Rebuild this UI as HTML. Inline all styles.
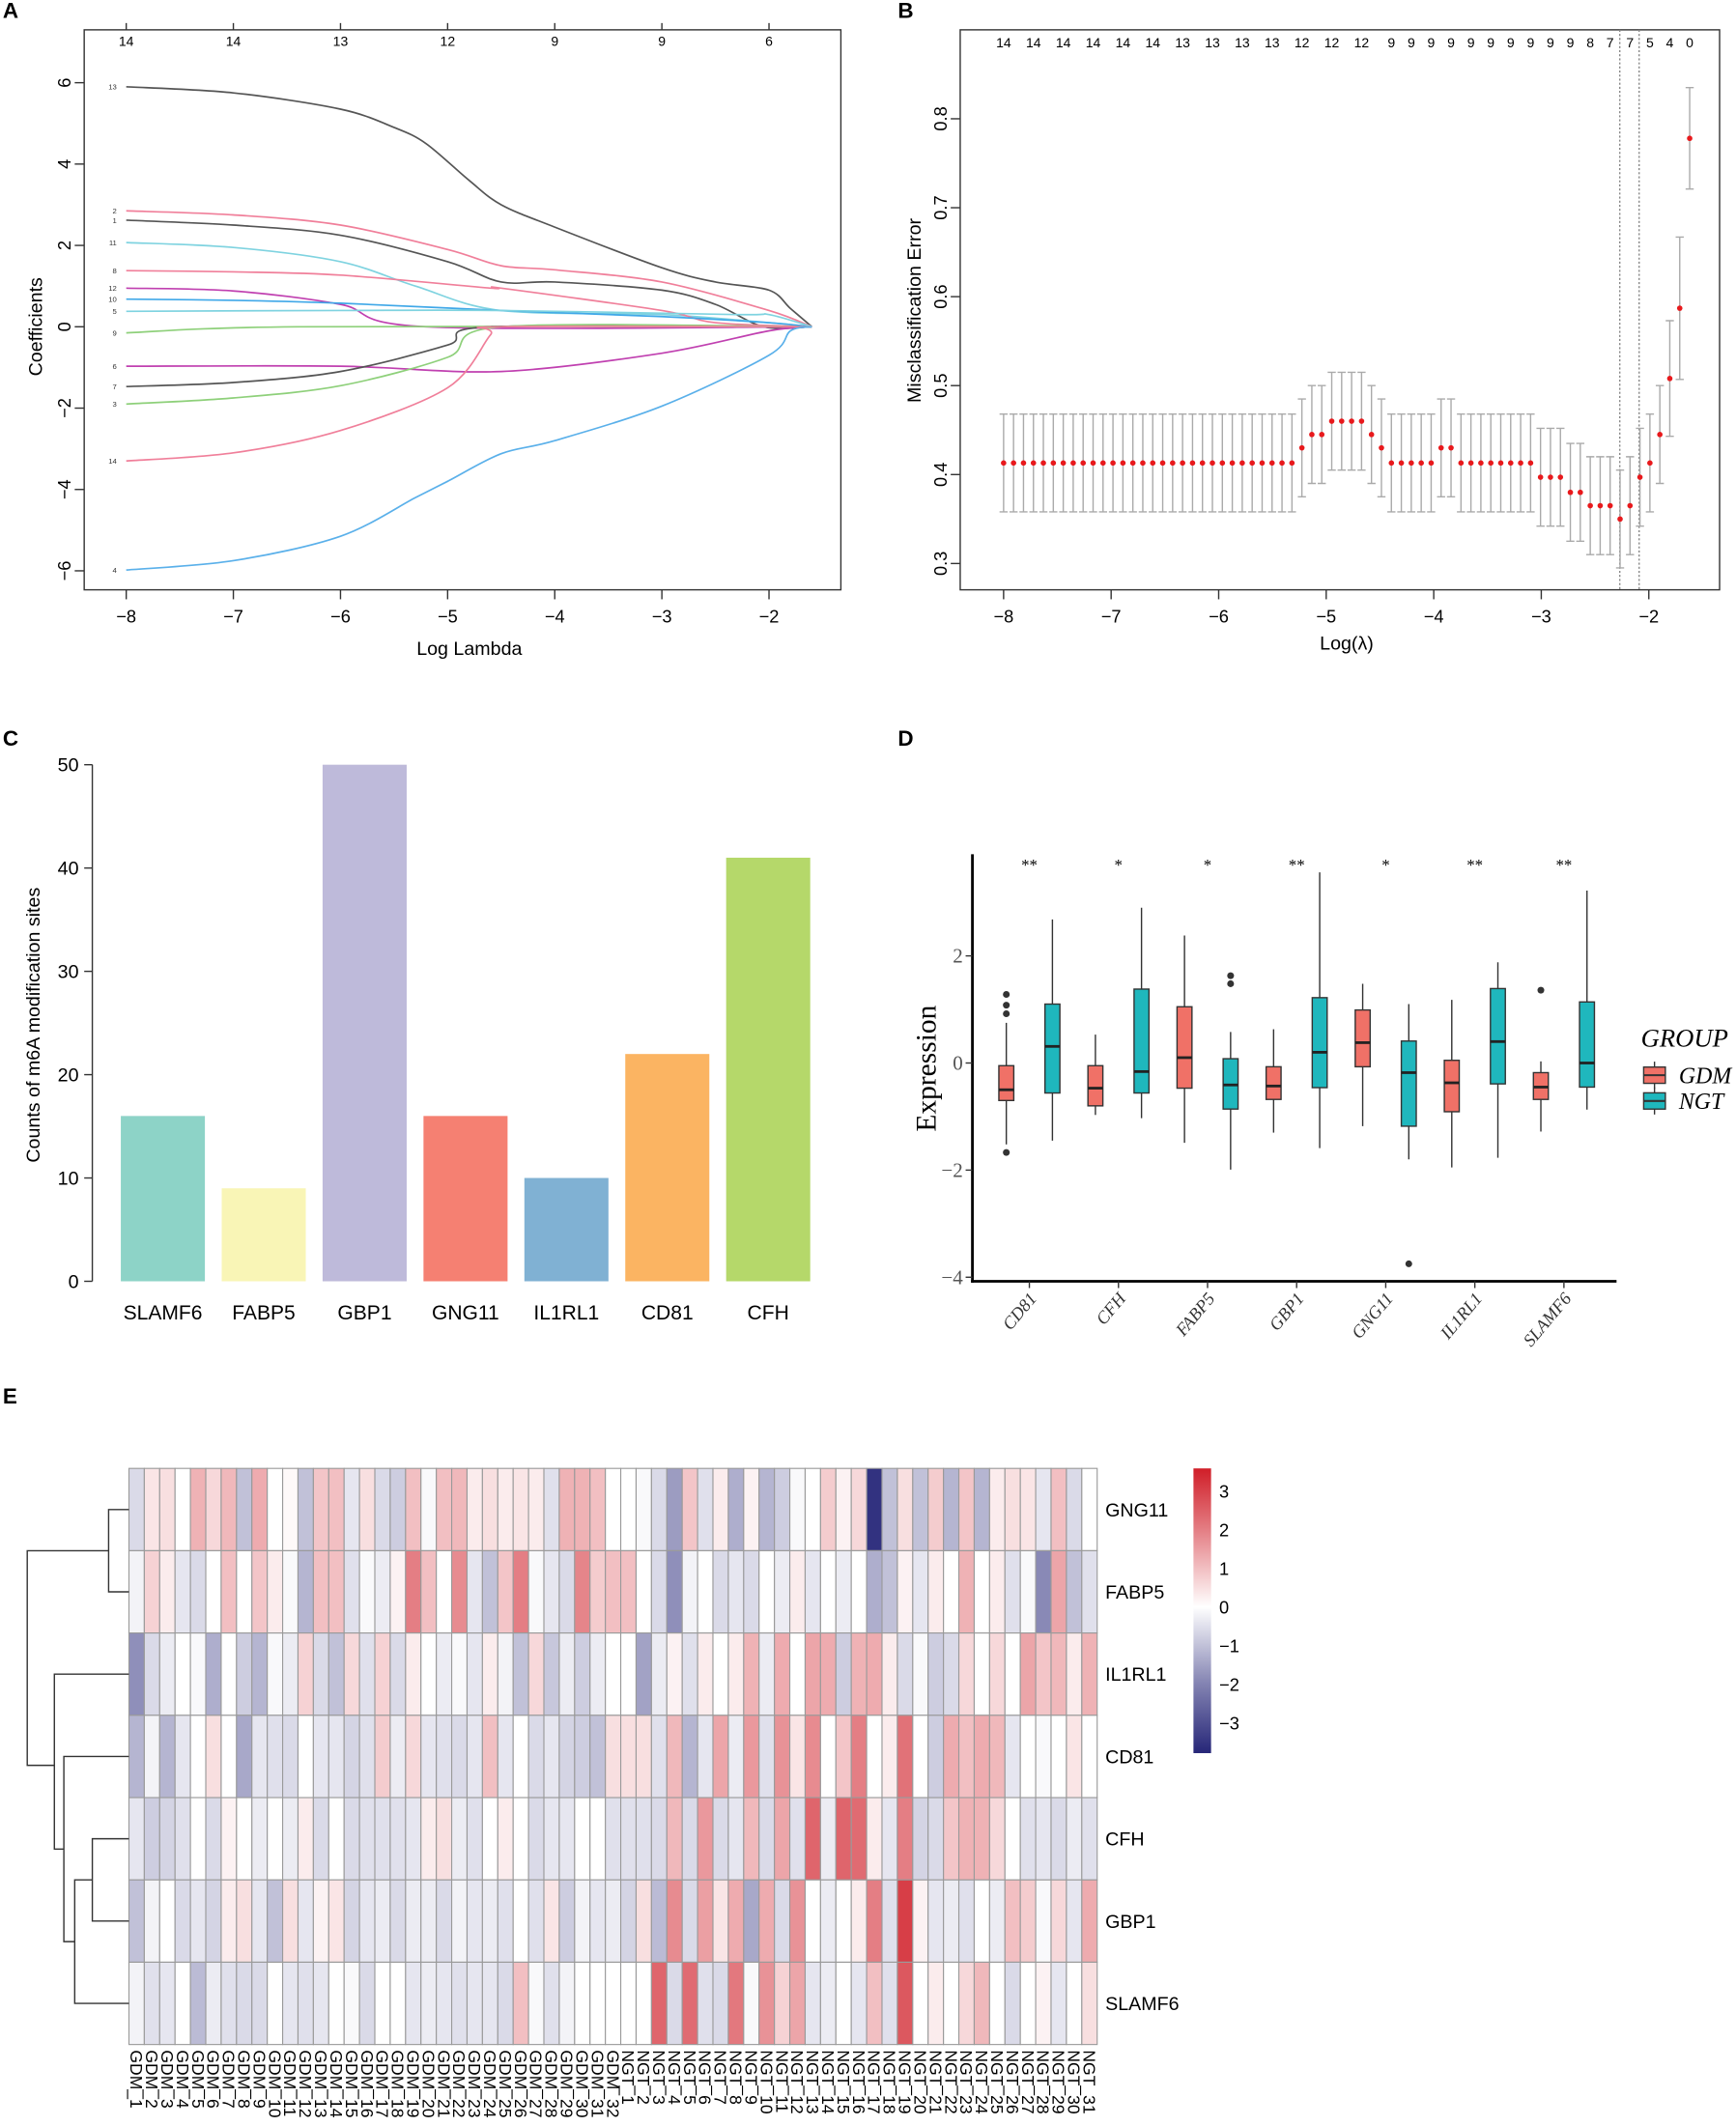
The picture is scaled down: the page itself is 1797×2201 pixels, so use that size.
<!DOCTYPE html>
<html><head><meta charset="utf-8"><style>
html,body{margin:0;padding:0;background:#fff}
svg{display:block}
text{font-family:"Liberation Sans",sans-serif}
text.ser{font-family:"Liberation Serif",serif}
</style></head><body>
<svg id="fig" xmlns="http://www.w3.org/2000/svg" width="1797" height="2201" viewBox="0 0 1280 1568">
<rect width="1280" height="1568" fill="#fff"/>
<text x="2" y="13" font-size="16" font-weight="bold">A</text>
<text x="662" y="13" font-size="16" font-weight="bold">B</text>
<text x="2" y="550" font-size="16" font-weight="bold">C</text>
<text x="662" y="550" font-size="16" font-weight="bold">D</text>
<text x="2" y="1035" font-size="16" font-weight="bold">E</text>
<g id="pa"></g>
<g id="pb"></g>
<g id="pc"></g>
<g id="pd"></g>
<g id="pe"></g>
</svg>
<script>
// ---------- Panel A data ----------
const aTicksX=[-8,-7,-6,-5,-4,-3,-2];
const aTicksY=[-6,-4,-2,0,2,4,6];
const aTopLabels=["14","14","13","12","9","9","6"];
const aLabels=["13","2","1","11","8","12","10","5","9","6","7","3","14","4"];
const aColors=["#555","#f07f9a","#555","#7fd3e0","#f07f9a","#c040b0","#40a8e8","#7fd3e0","#8ed07a","#c040b0","#555","#8ed07a","#f07f9a","#5ab0ea"];
const aKnotX=[
[-8,-7,-6,-5.5,-5.2,-4.8,-4.5,-4,-3,-2.5,-2,-1.8,-1.6],
[-8,-7,-6,-5,-4.5,-4,-3,-2,-1.6],
[-8,-7,-6,-5,-4.5,-4,-3,-2.5,-2.05,-1.6],
[-8,-7,-6,-5.3,-4.5,-3,-2,-1.6],
[-8,-7,-6,-4.6,-4.5,-3,-2.5,-1.6],
[-8,-7,-6,-5.2,-1.6],
[-8,-7,-6,-4.5,-3,-2,-1.6],
[-8,-6,-4.5,-2.3,-2,-1.6],
[-8,-6.4,-1.6],
[-8,-6,-4.5,-3,-2,-1.6],
[-8,-7,-6,-5,-4.6,-1.6],
[-8,-7,-6,-5,-4.5,-1.6],
[-8,-7,-6,-5,-4.6,-4.5,-1.6],
[-8,-7,-6,-5.3,-5,-4.5,-4,-3,-2,-1.8,-1.6]];
const aKnotV=[
[5.9,5.75,5.35,4.9,4.5,3.6,3.0,2.45,1.45,1.1,0.9,0.45,0],
[2.85,2.75,2.5,1.9,1.5,1.4,1.1,0.4,0],
[2.62,2.5,2.25,1.6,1.1,1.1,0.9,0.55,0,0],
[2.07,1.95,1.6,1.0,0.4,0.3,0.1,0],
[1.38,1.35,1.27,0.95,0.95,0.4,0.1,0],
[0.95,0.88,0.55,0,0],
[0.68,0.65,0.58,0.4,0.25,0.1,0],
[0.38,0.4,0.4,0.3,0.3,0],
[-0.15,0,0],
[-0.97,-0.97,-1.1,-0.65,-0.1,0],
[-1.47,-1.37,-1.1,-0.45,0,0],
[-1.9,-1.75,-1.45,-0.75,0,0],
[-3.3,-3.1,-2.55,-1.5,-0.2,0,0],
[-5.98,-5.75,-5.15,-4.2,-3.8,-3.12,-2.8,-1.95,-0.7,-0.1,0]];
// ---------- Panel B data ----------
const bTicksX=[-8,-7,-6,-5,-4,-3,-2];
const bTicksY=[0.3,0.4,0.5,0.6,0.7,0.8];
const bTopLabels=["14","14","14","14","14","14","13","13","13","13","12","12","12","9","9","9","9","9","9","9","9","9","9","8","7","7","5","4","0"];
const bTopIdx=[0,3,6,9,12,15,18,21,24,27,30,33,36,39,41,43,45,47,49,51,53,55,57,59,61,63,65,67,69];
const bLogLambda=[];
const bErr=[0.413,0.413,0.413,0.413,0.413,0.413,0.413,0.413,0.413,0.413,0.413,0.413,0.413,0.413,0.413,0.413,0.413,0.413,0.413,0.413,0.413,0.413,0.413,0.413,0.413,0.413,0.413,0.413,0.413,0.413,
0.43,0.445,0.445,0.46,0.46,0.46,0.46,0.445,0.43,0.413,0.413,0.413,0.413,0.413,0.43,0.43,0.413,0.413,0.413,0.413,0.413,0.413,0.413,0.413,0.397,0.397,0.397,0.38,0.38,0.365,0.365,0.365,0.35,0.365,0.397,0.413,0.445,0.508,0.587,0.778];
const bSE=[];
for(let i=0;i<70;i++){bLogLambda.push(-8+i*(6.38/69));bSE.push(0.055);}
bSE[67]=0.065;bSE[68]=0.08;bSE[69]=0.057;
const bVlines=[-2.27,-2.09];
// ---------- Panel C data ----------
const cGenes=["SLAMF6","FABP5","GBP1","GNG11","IL1RL1","CD81","CFH"];
const cCounts=[16,9,50,16,10,22,41];
const cColors=["#8dd3c7","#f9f5b6","#bebada","#f58072","#80b1d3","#fbb462","#b5d86a"];
const cTicks=[0,10,20,30,40,50];
// ---------- Panel D data ----------
const dGenes=["CD81","CFH","FABP5","GBP1","GNG11","IL1RL1","SLAMF6"];
const dSig=["**","*","*","**","*","**","**"];
const dTicks=[-4,-2,0,2];
const dGDM=[[-1.52,-0.7,-0.5,-0.05,0.75],[-0.97,-0.8,-0.47,-0.05,0.53],[-1.49,-0.47,0.1,1.05,2.38],[-1.3,-0.68,-0.43,-0.07,0.63],[-1.18,-0.07,0.38,0.99,1.48],[-1.95,-0.91,-0.37,0.05,1.18],[-1.28,-0.68,-0.45,-0.18,0.03]];
const dNGT=[[-1.45,-0.56,0.31,1.1,2.68],[-1.03,-0.56,-0.16,1.38,2.9],[-1.99,-0.86,-0.41,0.08,0.58],[-1.59,-0.46,0.2,1.22,3.56],[-1.8,-1.18,-0.18,0.41,1.1],[-1.77,-0.39,0.4,1.39,1.88],[-0.87,-0.45,0.0,1.14,3.22]];
const dOutGDM=[[1.28,1.08,0.92,-1.67],[],[],[],[],[],[1.36]];
const dOutNGT=[[],[],[1.63,1.48],[],[-3.75],[],[]];
// ---------- Panel E data ----------
const eRows=["GNG11","FABP5","IL1RL1","CD81","CFH","GBP1","SLAMF6"];
const eCols=[];for(let i=1;i<=32;i++)eCols.push("GDM_"+i);for(let i=1;i<=31;i++)eCols.push("NGT_"+i);
const eGNG11=[-0.6,0.4,0.5,0,1.2,0.6,1.1,-1,1.3,0,0.1,-1,0.9,1,-0.4,0.5,-0.6,-0.8,1,-0.1,1,1.1,0.3,0.5,0.3,0.4,0.3,-0.5,1.2,1.2,1,0,0,-0.1,-0.6,-1.6,0.9,-0.5,0.3,-1.3,0.2,-1.2,-0.8,-0.1,0,0.8,0.2,0.6,-3.3,-1,0.5,-1,0.8,-1.2,0.9,-1.2,0.3,0.5,0.4,-0.4,1,-0.6,0];
const eFABP5=[-0.2,0.7,0.3,-0.4,-0.6,0,1,0,0.9,0.3,-0.1,-1.2,1,1,-0.5,-0.1,-0.3,0.2,2,1,0,1.8,-0.4,-1,0.9,2,-0.1,-0.4,-0.6,1.9,0.8,1,1,0,-0.6,-1.8,-0.2,0,-0.6,-0.4,-0.6,0,-0.3,0.3,-0.4,0,-0.3,0,-1.3,-1,0.2,-0.4,0.3,0,1.2,0,0.3,-0.5,-0.1,-1.9,1.4,-1,-0.5];
const eIL1RL1=[-1.8,-0.6,-0.3,0,-0.1,-1.3,0,-0.8,-1.2,-0.1,-0.3,0.7,-0.6,-1,0.6,-0.5,0.7,-0.6,0.3,0,-0.3,-0.1,-0.4,0.3,-0.2,-1,0.6,-0.9,-0.3,-0.8,-0.3,0,0,-1.5,-0.3,0.2,-0.5,0.3,0,0.3,1.2,-0.3,1.3,0,1.4,1.3,-0.8,1.2,1.3,0.3,-0.6,-0.1,-0.8,-0.6,0.6,0,0.6,0,1.4,0.9,1.1,0.3,1.2];
const eCD81=[-1.2,-0.2,-1.2,-0.4,0,0.5,0,-1.4,-0.4,-0.5,-0.6,0,-0.4,-0.4,-0.7,-0.5,0.8,-0.3,0.6,-0.4,-0.5,-0.6,-0.4,1,-0.4,0,-0.6,-0.4,-0.7,-0.8,-1,0.5,0.5,0.5,-0.5,1.1,-1.2,-0.4,1.4,-0.3,1.6,-0.5,1.7,0.4,1.8,0,0.9,2,0,0.3,2.2,0,-0.8,1.3,1,1.3,1.1,-0.4,0,-0.1,0,0.4,0];
const eCFH=[-0.4,-0.8,-0.7,-0.5,0,-0.6,0.2,0,-0.3,0,-0.3,0.3,-0.6,0,-0.6,-0.5,-0.5,-0.5,-0.4,0.3,0.5,-0.3,-0.5,0,0.3,0,-0.6,-0.4,-0.4,0,0,-0.5,-0.5,-0.5,-0.6,1.1,-0.6,1.6,-0.6,-0.4,1.1,-0.6,1.4,-0.5,2.4,-0.3,2.4,2.3,0.3,-0.4,2,-0.7,-0.6,0.9,1.2,1.2,0.6,0,-0.5,-0.4,-0.6,-0.3,-0.5];
const eGBP1=[-1,-0.2,0,-0.6,-0.4,-0.7,0.3,0.5,-0.4,-1,0.5,-0.4,0.2,0.4,-0.7,-0.4,-0.3,-0.6,-0.3,-0.3,-0.6,-0.2,-0.4,-0.3,-0.5,0,-0.5,0.4,-0.8,-0.2,-0.4,-0.3,-0.7,0.5,-1.1,1.8,-0.6,1.5,0.4,1.3,-1.4,1.3,-0.6,1.7,0,-0.3,0,0.3,2,-0.5,3,0.2,-0.4,-0.3,-0.5,0,-0.3,1,0.8,-0.1,0.6,-0.4,1.3];
const eSLAMF6=[-0.2,-0.5,-0.4,0,-1.1,-0.3,-0.5,-0.6,-0.6,0,-0.4,-0.5,-0.4,0,-0.1,-0.6,0,0,-0.4,-0.3,-0.4,-0.5,-0.4,-0.4,-0.6,1,-0.1,-0.5,-0.2,0,0,0,0,0,2.4,-0.6,2.3,-0.5,-0.6,2.1,-0.1,1.7,0.7,1.4,-0.4,-0.3,0,-0.4,1,-0.5,2.6,0,0.3,0,0.6,1.1,0,-0.6,0,0.2,-0.4,0,0.5];
const eLegendTicks=[3,2,1,0,-1,-2,-3];

const NS="http://www.w3.org/2000/svg";
function mk(parent,tag,attrs,txt){const e=document.createElementNS(NS,tag);for(const k in attrs)e.setAttribute(k,attrs[k]);if(txt!==undefined)e.textContent=txt;parent.appendChild(e);return e;}
function smooth(p){
 let d='M'+p[0][0]+','+p[0][1];
 for(let i=0;i<p.length-1;i++){
  const p0=p[Math.max(i-1,0)],p1=p[i],p2=p[i+1],p3=p[Math.min(i+2,p.length-1)];
  const t=0.16;
  d+=`C${p1[0]+(p2[0]-p0[0])*t},${p1[1]+(p2[1]-p0[1])*t} ${p2[0]-(p3[0]-p1[0])*t},${p2[1]-(p3[1]-p1[1])*t} ${p2[0]},${p2[1]}`;
 }
 return d;
}

// ===== Panel A =====
(function(){
const g=document.getElementById('pa');
const X=v=>93+(v+8)*79, Y=v=>241-v*30;
let r=mk(g,'rect',{x:62,y:22,width:558,height:413,fill:'none',stroke:'#333','stroke-width':1});

aTicksX.forEach(t=>{mk(g,'line',{x1:X(t),x2:X(t),y1:435,y2:442,stroke:'#333'});
 let tx=mk(g,'text',{x:X(t),y:459,'font-size':13,'text-anchor':'middle'},t<0?'\u2212'+(-t):t);
 });
aTicksX.forEach((t,i)=>{mk(g,'line',{x1:X(t),x2:X(t),y1:22,y2:17,stroke:'#333'});
 let tx=mk(g,'text',{x:X(t),y:34,'font-size':10,'text-anchor':'middle'},aTopLabels[i]);
 });
aTicksY.forEach(t=>{mk(g,'line',{x1:62,x2:55,y1:Y(t),y2:Y(t),stroke:'#333'});
 let tx=mk(g,'text',{x:0,y:0,'font-size':13,'text-anchor':'middle',transform:`translate(52,${Y(t)}) rotate(-90)`},t<0?'\u2212'+(-t):t);
 });
let yt=mk(g,'text',{x:0,y:0,'font-size':14,'text-anchor':'middle',transform:'translate(31,241) rotate(-90)'},'Coefficients');

let xt=mk(g,'text',{x:346,y:483,'font-size':14,'text-anchor':'middle'},'Log Lambda');

aKnotX.forEach((kx,i)=>{
 const pts=kx.map((x,j)=>[X(x),Y(aKnotV[i][j])]);
 let pl=mk(g,'path',{d:smooth(pts),fill:'none',stroke:aColors[i],'stroke-width':1.2,'stroke-linejoin':'round'});
 
 let lb=mk(g,'text',{x:86,y:Y(aKnotV[i][0])+2,'font-size':5.5,'text-anchor':'end',fill:'#333'},aLabels[i]);
 
});
})();

// ===== Panel B =====
(function(){
const g=document.getElementById('pb');
const X=v=>740+(v+8)*79.3, Y=v=>350-(v-0.4)*656;
let r=mk(g,'rect',{x:708,y:22,width:560,height:413,fill:'none',stroke:'#333'});

bTicksX.forEach(t=>{mk(g,'line',{x1:X(t),x2:X(t),y1:435,y2:442,stroke:'#333'});
 let tx=mk(g,'text',{x:X(t),y:459,'font-size':13,'text-anchor':'middle'},t<0?'\u2212'+(-t):t);
 });
bTicksY.forEach(t=>{mk(g,'line',{x1:708,x2:701,y1:Y(t),y2:Y(t),stroke:'#333'});
 let tx=mk(g,'text',{x:0,y:0,'font-size':13,'text-anchor':'middle',transform:`translate(698,${Y(t)}) rotate(-90)`},t.toFixed(1));
 });
bTopLabels.forEach((l,i)=>{const idx=bTopIdx[i];
 let tx=mk(g,'text',{x:X(bLogLambda[idx]),y:35,'font-size':10,'text-anchor':'middle'},l);
 });
bVlines.forEach(v=>{let l=mk(g,'line',{x1:X(v),x2:X(v),y1:22,y2:435,stroke:'#888','stroke-dasharray':'1.5,1.5'});
 });
bLogLambda.forEach((x,i)=>{
 const cx=X(x),lo=Y(bErr[i]-bSE[i]),hi=Y(bErr[i]+bSE[i]);
 let e=mk(g,'path',{d:`M${cx},${lo}V${hi}M${cx-3},${lo}H${cx+3}M${cx-3},${hi}H${cx+3}`,stroke:'#aaa','stroke-width':1,fill:'none'});
 
 let c=mk(g,'circle',{cx:cx,cy:Y(bErr[i]),r:2,fill:'#e8191c'});
 
});
let yt=mk(g,'text',{x:0,y:0,'font-size':14,'text-anchor':'middle',transform:'translate(679,229) rotate(-90)'},'Misclassification Error');

let xt=mk(g,'text',{x:993,y:479,'font-size':14,'text-anchor':'middle'},'Log(\u03bb)');

})();

// ===== Panel C =====
(function(){
const g=document.getElementById('pc');
const Y=v=>945-v*7.62, X=i=>120+i*74.4;
mk(g,'line',{x1:68,x2:68,y1:Y(0),y2:Y(50),stroke:'#333'});
cTicks.forEach(t=>{mk(g,'line',{x1:68,x2:62,y1:Y(t),y2:Y(t),stroke:'#333'});
 let tx=mk(g,'text',{x:58,y:Y(t)+5,'font-size':14,'text-anchor':'end'},t);
 });
cGenes.forEach((gn,i)=>{
 let b=mk(g,'rect',{x:X(i)-31,y:Y(cCounts[i]),width:62,height:Y(0)-Y(cCounts[i]),fill:cColors[i]});
 
 let tx=mk(g,'text',{x:X(i),y:973,'font-size':15,'text-anchor':'middle'},gn);
 
});
let yt=mk(g,'text',{x:0,y:0,'font-size':14,'text-anchor':'middle',transform:'translate(29,756) rotate(-90)'},'Counts of m6A modification sites');

})();

// ===== Panel D =====
(function(){
const g=document.getElementById('pd');
const Y=v=>784-v*39.5, X=i=>759+i*65.7;
mk(g,'line',{x1:717,x2:717,y1:630,y2:946,stroke:'#000','stroke-width':2});
mk(g,'line',{x1:716,x2:1192,y1:945,y2:945,stroke:'#000','stroke-width':2});
dTicks.forEach(t=>{mk(g,'line',{x1:717,x2:712,y1:Y(t),y2:Y(t),stroke:'#333'});
 let tx=mk(g,'text',{class:'ser',x:710,y:Y(t)+5,'font-size':15,'text-anchor':'end',fill:'#555'},t<0?'\u2212'+(-t):t);
 });
function box(i,d,off,col,outs,grp){
 const cx=X(i)+off,w=11;
 let wl=mk(g,'line',{x1:cx,x2:cx,y1:Y(d[0]),y2:Y(d[4]),stroke:'#333','stroke-width':1});
 
 let b=mk(g,'rect',{x:cx-w/2,y:Y(d[3]),width:w,height:Y(d[1])-Y(d[3]),fill:col,stroke:'#333','stroke-width':1});
 
 mk(g,'line',{x1:cx-w/2,x2:cx+w/2,y1:Y(d[2]),y2:Y(d[2]),stroke:'#222','stroke-width':2});
 outs.forEach(o=>{let c=mk(g,'circle',{cx:cx,cy:Y(o),r:2.5,fill:'#333'});
  });
}
dGenes.forEach((gn,i)=>{
 box(i,dGDM[i],-17,'#f07167',dOutGDM[i],'gdm');
 box(i,dNGT[i],17,'#1fb7bd',dOutNGT[i],'ngt');
 mk(g,'line',{x1:X(i),x2:X(i),y1:945,y2:950,stroke:'#333'});
 let s=mk(g,'text',{class:'ser',x:X(i),y:642,'font-size':12,'text-anchor':'middle'},dSig[i]);
 
 let tx=mk(g,'text',{class:'ser',x:0,y:0,'font-size':13,'text-anchor':'end','font-style':'italic',fill:'#333',transform:`translate(${X(i)+6},${958}) rotate(-50)`},gn);
 
});
let yt=mk(g,'text',{class:'ser',x:0,y:0,'font-size':21,'text-anchor':'middle',transform:'translate(690,788) rotate(-90)'},'Expression');

let lt=mk(g,'text',{class:'ser',x:1210,y:772,'font-size':19,'font-style':'italic'},'GROUP');

[['GDM','#f07167',793],['NGT','#1fb7bd',812]].forEach(([n,c,y])=>{
 mk(g,'line',{x1:1220,x2:1220,y1:y-10,y2:y+10,stroke:'#333'});
 let r=mk(g,'rect',{x:1212,y:y-6,width:16,height:12,fill:c,stroke:'#333'});
 
 mk(g,'line',{x1:1212,x2:1228,y1:y,y2:y,stroke:'#333','stroke-width':1.5});
 let t=mk(g,'text',{class:'ser',x:1238,y:y+6,'font-size':17,'font-style':'italic'},n);
 
});
})();

// ===== Panel E =====
(function(){
const g=document.getElementById('pe');
const data=[eGNG11,eFABP5,eIL1RL1,eCD81,eCFH,eGBP1,eSLAMF6];
const x0=95,x1=809,y0=1083,rh=60.7,cw=(x1-x0)/eCols.length;
function col(v){
 if(v>=0){const t=Math.min(v/3.5,1);return `rgb(${Math.round(255-47*t)},${Math.round(255-225*t)},${Math.round(255-215*t)})`;}
 const t=Math.min(-v/3.5,1);return `rgb(${Math.round(255-217*t)},${Math.round(255-217*t)},${Math.round(255-135*t)})`;
}
data.forEach((row,r)=>{row.forEach((v,c)=>{
 let rc=mk(g,'rect',{x:x0+c*cw,y:y0+r*rh,width:cw,height:rh,fill:col(v),stroke:'#9a9a9a','stroke-width':0.8});
 
});
 let t=mk(g,'text',{x:815,y:y0+r*rh+rh/2+5,'font-size':14},eRows[r]);
 
});
eCols.forEach((c,i)=>{let t=mk(g,'text',{x:0,y:0,'font-size':12.5,transform:`translate(${x0+i*cw+cw/2-4.5},1512) rotate(90)`},c);
 });
const rc=i=>y0+i*rh+rh/2;
const dp='M95,'+rc(0)+'H80V'+rc(1)+'H95'
 +'M95,'+rc(4)+'H68V'+rc(5)+'H95'
 +'M68,'+((rc(4)+rc(5))/2)+'H55V'+rc(6)+'H95'
 +'M55,'+((((rc(4)+rc(5))/2)+rc(6))/2)+'H47V'+rc(3)+'H95'
 +'M47,'+((rc(3)+(((rc(4)+rc(5))/2)+rc(6))/2)/2)+'H40V'+rc(2)+'H95'
 +'M40,1302H20V'+((rc(0)+rc(1))/2)+'H80';
let d=mk(g,'path',{d:dp,fill:'none',stroke:'#333','stroke-width':1});

const LY=v=>1185-v*28.5;
const defs=mk(g,'defs',{});const lg=mk(defs,'linearGradient',{id:'lg',x1:0,y1:1,x2:0,y2:0});
[-3.8,-2,0,2,3.6].forEach(v=>mk(lg,'stop',{offset:((v+3.8)/7.4*100)+'%','stop-color':col(v)}));
let lr=mk(g,'rect',{x:880,y:1083,width:13,height:210,fill:'url(#lg)'});

eLegendTicks.forEach(t=>{let tx=mk(g,'text',{x:899,y:LY(t)+5,'font-size':13},t<0?'\u2212'+(-t):t);
 });
})();
</script>
</body></html>
